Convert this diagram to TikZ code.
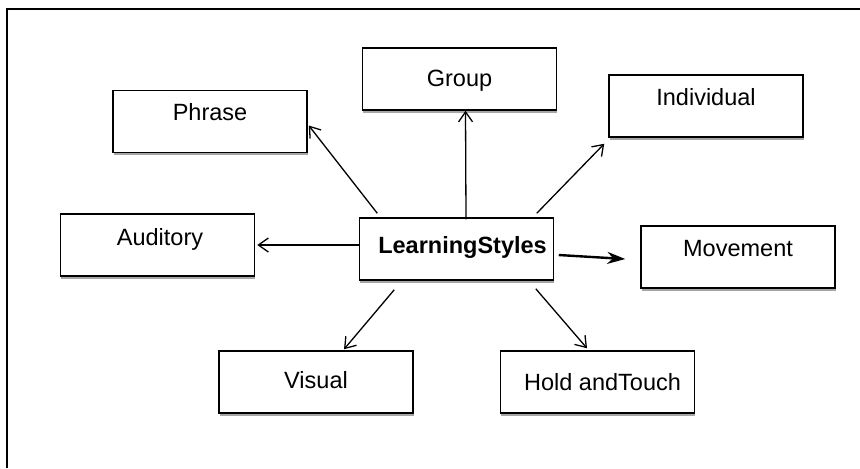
\documentclass[tikz,border=0pt]{standalone}
\usepackage{fontspec}
\setmainfont{Liberation Sans}
\usetikzlibrary{arrows.meta,shadows}

\tikzset{
  stylebox/.style={draw, line width=0.75pt, fill=white, minimum width=97pt,
    minimum height=31pt, inner sep=0pt, text height=8.8pt, text depth=6.8pt,
    font=\fontsize{11.75}{14}\selectfont,
    drop shadow={shadow xshift=0.4pt, shadow yshift=-1.4pt, fill=black!35, opacity=1}},
  link/.style={line width=0.65pt, -{Straight Barb[length=5pt,width=7pt]}},
  boldlink/.style={line width=1.2pt, -{Stealth[length=9pt,width=6pt]}}
}

\begin{document}
\begin{tikzpicture}[x=0.5pt,y=-0.5pt]
        \useasboundingbox (0,0) rectangle (860,468);
        % Frame
        \draw[line width=0.75pt] (7,468) -- (7,9) -- (860,9);

        % Centre
        \node[stylebox, text depth=4.8pt] (ls) at (456.5,249) {\hspace*{6pt}\bfseries LearningStyles};

        % Styles around it
        \node[stylebox, text depth=10.3pt] (phrase) at (210,121.5) {Phrase};
        \node[stylebox, text depth=1.5pt] (group) at (459.5,79) {Group};
        \node[stylebox, text depth=9.8pt] (indiv) at (706,106) {Individual};
        \node[stylebox, text depth=8.8pt] (audit) at (157.5,245) {\hspace*{2.5pt}Auditory};
        \node[stylebox, text depth=9.8pt] (move) at (738,257) {Movement};
        \node[stylebox, text depth=2.8pt] (visual) at (316,382) {Visual};
        \node[stylebox, text depth=0pt] (touch) at (597.5,382) {\hspace*{5pt}Hold andTouch};

        % Connections
        \draw[link] ([shift={(18.5,-4)}]ls.north west) -- ([shift={(1,4)}]phrase.east);
        \draw[link] ([shift={(9.5,2)}]ls.north) -- ([shift={(6,0)}]group.south);
        \draw[link] ([shift={(-17.5,-4)}]ls.north east) -- ([shift={(-4,6)}]indiv.south west);
        \draw[link] ([shift={(0,-4)}]ls.west) -- ([shift={(2,0)}]audit.east);
        \draw[boldlink] ([shift={(4.5,6)}]ls.east) -- ([shift={(-15,2)}]move.west);
        \draw[link] ([shift={(35.5,9)}]ls.south west) -- ([shift={(28,-1)}]visual.north);
        \draw[link] ([shift={(-18.5,8)}]ls.south east) -- ([shift={(-10.5,-2)}]touch.north);
\end{tikzpicture}
\end{document}
